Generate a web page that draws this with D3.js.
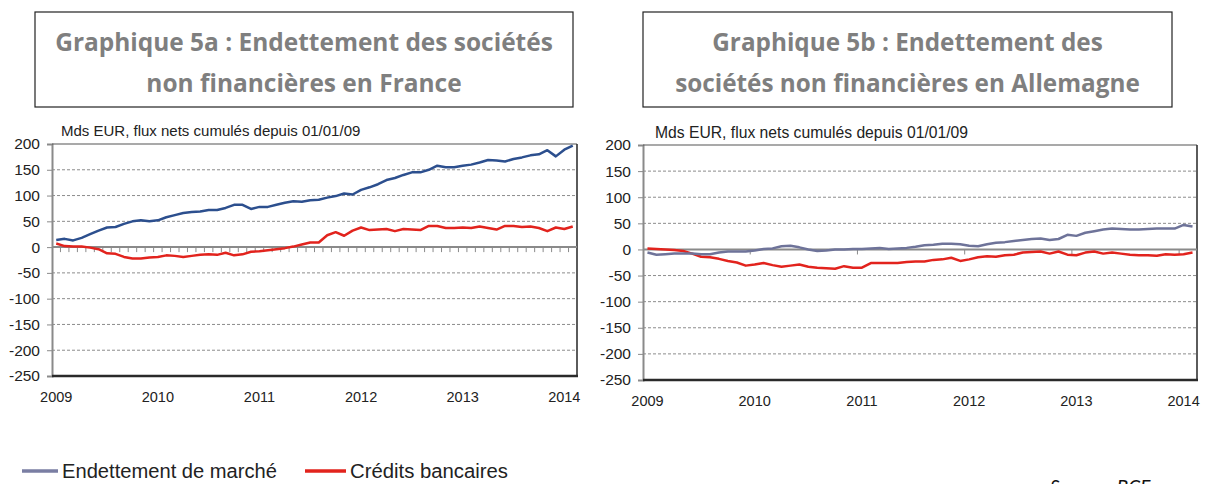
<!DOCTYPE html>
<html>
<head>
<meta charset="utf-8">
<script src="https://cdn.jsdelivr.net/npm/d3@7"></script>
<style>
  body { margin: 0; background: #fff; }
  svg { display: block; }
</style>
</head>
<body>
<svg id="chart" width="1206" height="484"></svg>
<script>
// Months, Jan 2009 -> Feb 2014 (62 monthly points)
var months = d3.timeMonth.range(new Date(2009, 0, 1), new Date(2014, 2, 1));
var yearLabels = ["2009", "2010", "2011", "2012", "2013", "2014"];
var yTicks = [200, 150, 100, 50, 0, -50, -100, -150, -200, -250];
var seriesNames = ["Endettement de marché", "Crédits bancaires"];

// France, Mds EUR cumulated net flows since 01/01/09
var frMarket = [14, 16, 13, 18, 25, 32, 38, 39, 45, 50, 52, 50, 52, 58, 62, 66, 68, 69, 72, 72,
  76, 82, 82, 74, 78, 78, 82, 86, 89, 88, 91, 92, 96, 99, 104, 102, 111, 116, 122, 130,
  134, 140, 145, 145, 150, 158, 155, 155, 158, 160, 164, 169, 168, 166, 171, 174, 178, 180, 188, 176,
  189, 197];
var frBank = [7, 2, 1, 1, -1, -4, -12, -13, -19, -22, -22, -20, -19, -16, -17, -19, -17, -15, -14, -15,
  -11, -16, -14, -9, -8, -6, -4, -2, 1, 5, 9, 9, 23, 29, 22, 32, 38, 33, 34, 35,
  31, 35, 34, 33, 41, 41, 37, 37, 38, 37, 40, 37, 34, 41, 41, 39, 40, 37, 31, 38,
  35, 40];

// Germany
var deMarket = [-6, -10, -9, -8, -8, -8, -9, -9, -6, -4, -4, -4, -2, 1, 2, 6, 7, 4, 0, -3,
  -2, 0, 0, 1, 1, 2, 3, 1, 2, 3, 5, 8, 9, 11, 11, 10, 7, 6, 10, 13,
  14, 16, 18, 20, 21, 18, 20, 28, 26, 32, 35, 38, 40, 39, 38, 38, 39, 40, 40, 40,
  47, 44];
var deBank = [2, 1, 0, -1, -3, -8, -14, -15, -18, -22, -25, -31, -29, -26, -30, -33, -31, -29, -33, -35,
  -36, -37, -32, -35, -35, -26, -26, -26, -26, -24, -23, -23, -20, -19, -16, -22, -19, -15, -13, -14,
  -11, -10, -6, -5, -4, -8, -4, -10, -11, -6, -4, -8, -6, -8, -10, -11, -11, -12, -9, -10,
  -9, -6];

var svg = d3.select("#chart");
var fontSans = "'Liberation Sans', Arial, sans-serif";
var redColor = "#e2231d";

var panels = [
  {
    title: ["Graphique 5a : Endettement des sociétés", "non financières en France"],
    box: [35, 12, 573, 107], titleWidth: 498,
    x0: 52, x1: 577, yTop: 144, yBot: 376,
    subX: 61, subY: 136, subSize: 15,
    market: frMarket, bank: frBank, marketColor: "#2c4f8e",
    monthlyTicks: true
  },
  {
    title: ["Graphique 5b : Endettement des", "sociétés non financières en Allemagne"],
    box: [643, 12, 1172, 107], titleWidth: 465, fitLine: 1,
    x0: 643, x1: 1197, yTop: 145, yBot: 380,
    subX: 655, subY: 138, subSize: 15.7,
    market: deMarket, bank: deBank, marketColor: "#6e7399",
    monthlyTicks: false
  }
];

panels.forEach(drawPanel);

function drawPanel(p) {
  //Title box
  svg.append("rect")
    .attr("x", p.box[0]).attr("y", p.box[1])
    .attr("width", p.box[2] - p.box[0]).attr("height", p.box[3] - p.box[1])
    .attr("fill", "none").attr("stroke", "#222").attr("stroke-width", 1.2);

  var cx = (p.box[0] + p.box[2]) / 2;
  var lines = p.title.map(function (t, i) {
    return svg.append("text")
      .attr("x", cx).attr("y", 51 + i * 41)
      .attr("text-anchor", "middle")
      .attr("font-family", "'Open Sans', Lato, sans-serif")
      .attr("font-weight", "bold")
      .attr("font-size", 24)
      .attr("fill", "#7f7f7f")
      .text(t);
  });
  //Scale the title font so the reference line keeps its width
  var ref = lines[p.fitLine || 0];
  var fs = 24 * p.titleWidth / ref.node().getComputedTextLength();
  lines.forEach(function (l) { l.attr("font-size", fs); });

  //Subtitle
  svg.append("text")
    .attr("x", p.subX).attr("y", p.subY)
    .attr("font-family", fontSans).attr("font-size", p.subSize)
    .attr("fill", "#222")
    .text("Mds EUR, flux nets cumulés depuis 01/01/09");

  var x = d3.scaleBand().domain(months).range([p.x0, p.x1]).padding(0);
  var y = d3.scaleLinear().domain([-250, 200]).range([p.yBot, p.yTop]);
  var xc = function (i) { return x(months[i]) + x.bandwidth() / 2; };

  //Dashed gridlines
  svg.append("g").selectAll("line")
    .data(yTicks.filter(function (v) { return v !== 0 && v !== 200 && v !== -250; }))
    .join("line")
    .attr("x1", p.x0).attr("x2", p.x1)
    .attr("y1", function (d) { return y(d); }).attr("y2", function (d) { return y(d); })
    .attr("stroke", "#8c8c8c").attr("stroke-width", 1)
    .attr("stroke-dasharray", "3,2");

  //Y axis with labels (plain hyphen for negatives, as in the source)
  var yAxis = d3.axisLeft(y).tickValues(yTicks).tickSize(5).tickPadding(7)
    .tickFormat(function (d) { return String(d); });
  var gy = svg.append("g").attr("transform", "translate(" + p.x0 + ",0)").call(yAxis);
  gy.select(".domain").attr("stroke", "#8a8a8a").attr("stroke-width", 2);
  gy.selectAll(".tick line").attr("stroke", "#8a8a8a");
  gy.selectAll(".tick text")
    .attr("font-family", fontSans).attr("font-size", 15.5).attr("fill", "#222");

  //Frame: top, right, bottom
  svg.append("line").attr("x1", p.x0).attr("x2", p.x1).attr("y1", p.yTop).attr("y2", p.yTop)
    .attr("stroke", "#555").attr("stroke-width", 1.2);
  svg.append("line").attr("x1", p.x1).attr("x2", p.x1).attr("y1", p.yTop).attr("y2", p.yBot)
    .attr("stroke", "#333").attr("stroke-width", 1.6);
  svg.append("line").attr("x1", p.x0).attr("x2", p.x1 + 1).attr("y1", p.yBot).attr("y2", p.yBot)
    .attr("stroke", "#2a2a2a").attr("stroke-width", 2.5);

  //Zero line with month/year ticks
  svg.append("line").attr("x1", p.x0).attr("x2", p.x1).attr("y1", y(0)).attr("y2", y(0))
    .attr("stroke", "#8a8a8a").attr("stroke-width", 2);
  var tickMonths = months.filter(function (m, i) {
    return i > 0 && (p.monthlyTicks || m.getMonth() === 0);
  });
  svg.append("g").selectAll("line")
    .data(tickMonths).join("line")
    .attr("x1", function (d) { return x(d); }).attr("x2", function (d) { return x(d); })
    .attr("y1", y(0)).attr("y2", y(0) + 5)
    .attr("stroke", "#8a8a8a").attr("stroke-width", 1);

  //Year labels
  var janIdx = months.map(function (m, i) { return m.getMonth() === 0 ? i : -1; })
    .filter(function (i) { return i >= 0; });
  svg.append("g").selectAll("text")
    .data(janIdx).join("text")
    .attr("x", function (d) { return xc(d); })
    .attr("y", p.yBot + 26)
    .attr("text-anchor", "middle")
    .attr("font-family", fontSans).attr("font-size", 14.5).attr("fill", "#222")
    .text(function (d, i) { return yearLabels[i]; });

  //Series lines
  var line = d3.line()
    .x(function (d, i) { return xc(i); })
    .y(function (d) { return y(d); });
  svg.append("path").datum(p.bank).attr("d", line)
    .attr("fill", "none").attr("stroke", redColor).attr("stroke-width", 2.5)
    .attr("stroke-linejoin", "round");
  svg.append("path").datum(p.market).attr("d", line)
    .attr("fill", "none").attr("stroke", p.marketColor).attr("stroke-width", 2.5)
    .attr("stroke-linejoin", "round");
}

//Legend
var legend = [
  { name: seriesNames[0], color: "#7a7ea3", x: 22, len: 36, tx: 62, w: 215 },
  { name: seriesNames[1], color: redColor, x: 305, len: 41, tx: 350, w: 158 }
];
legend.forEach(function (d) {
  svg.append("line").attr("x1", d.x).attr("x2", d.x + d.len)
    .attr("y1", 471).attr("y2", 471)
    .attr("stroke", d.color).attr("stroke-width", 3.5);
  svg.append("text").attr("x", d.tx).attr("y", 478)
    .attr("font-family", fontSans).attr("font-size", 20)
    .attr("textLength", d.w).attr("lengthAdjust", "spacingAndGlyphs")
    .attr("fill", "#222").text(d.name);
});

//Source, partly cut by the bottom edge as in the reference
svg.append("text").attr("x", 1050).attr("y", 494)
  .attr("font-family", "Lato, sans-serif").attr("font-size", 19)
  .attr("font-style", "italic")
  .attr("fill", "#111").text("Source : BCE");
</script>
</body>
</html>
